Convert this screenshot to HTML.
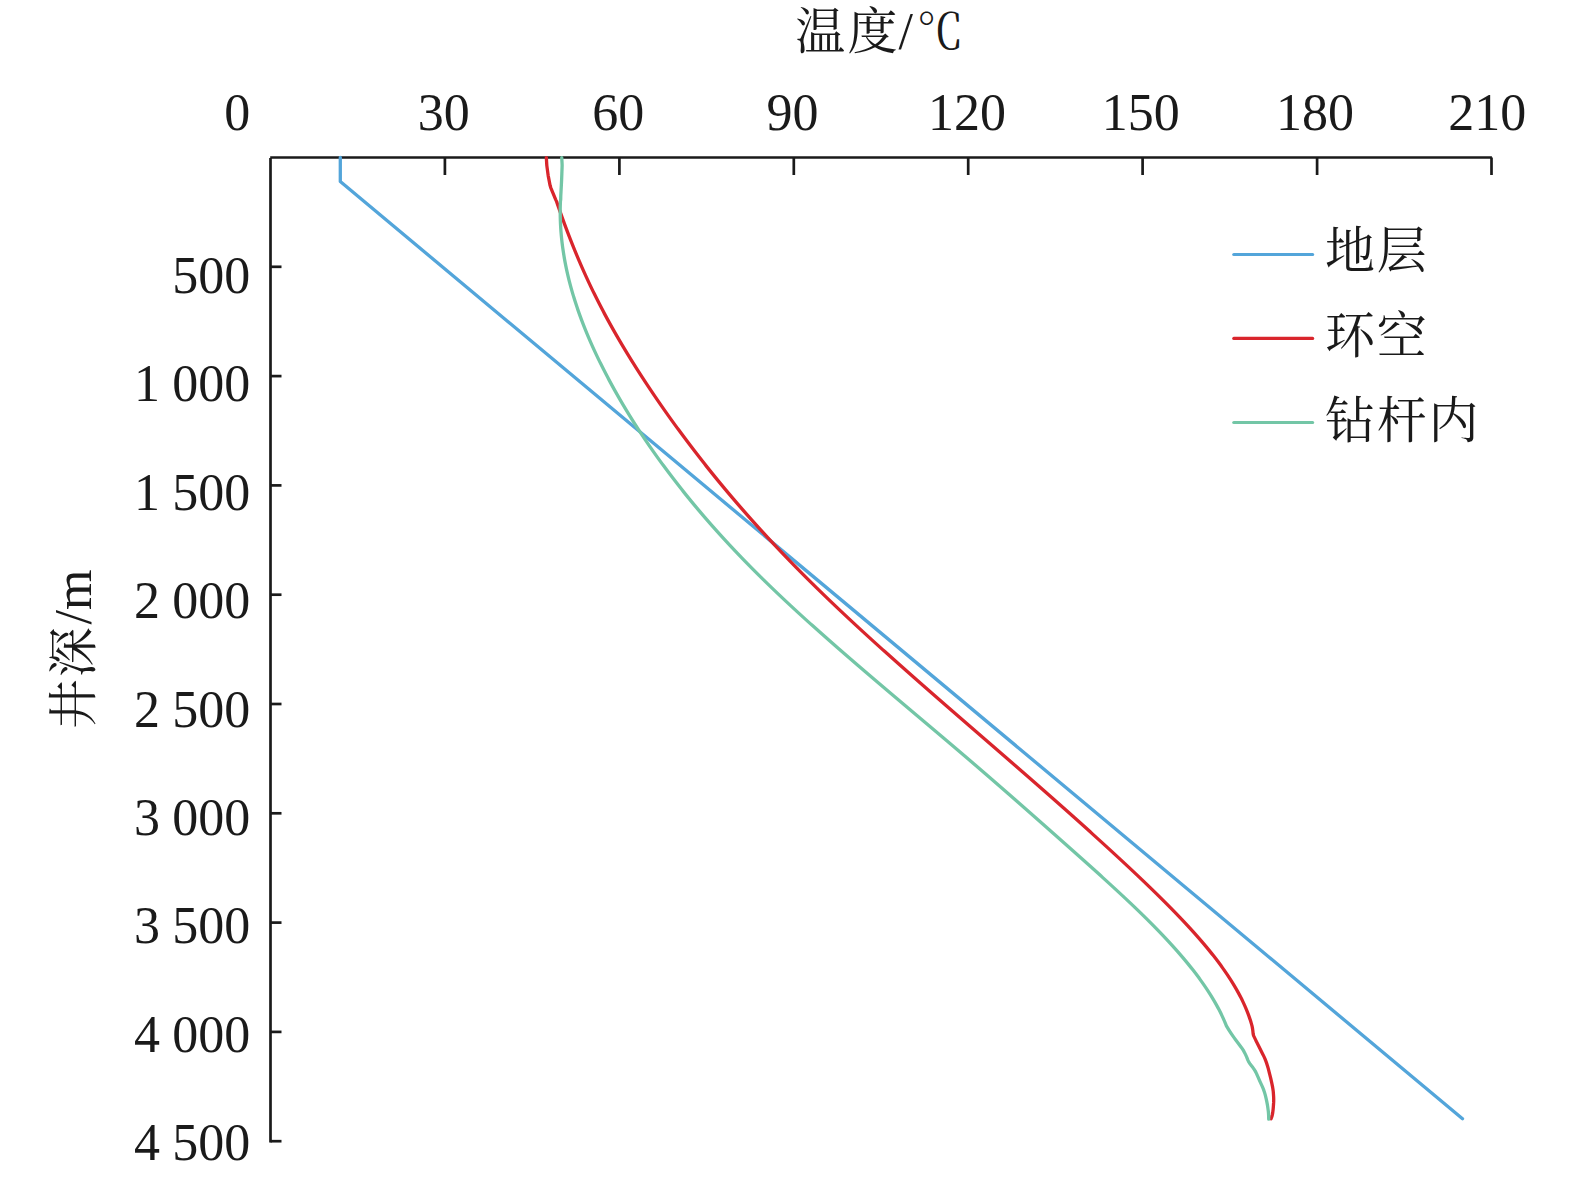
<!DOCTYPE html>
<html lang="zh-CN"><head><meta charset="utf-8"><title>温度-井深</title>
<style>html,body{margin:0;padding:0;background:#fff}body{width:1575px;height:1181px;overflow:hidden}svg{display:block}</style>
</head><body>
<svg width="1575" height="1181" viewBox="0 0 1575 1181">
<rect width="1575" height="1181" fill="#fff"/>
<g fill="none" stroke="#1a1a1a" stroke-width="2.7" stroke-linecap="butt">
<path d="M270.5,1142.55 L270.5,158.1"/>
<path d="M270.2,157.5 L1491.9,157.5"/>
<path d="M444.9,157.5 L444.9,175"/>
<path d="M619.4,157.5 L619.4,175"/>
<path d="M793.8,157.5 L793.8,175"/>
<path d="M968.2,157.5 L968.2,175"/>
<path d="M1142.6,157.5 L1142.6,175"/>
<path d="M1317.1,157.5 L1317.1,175"/>
<path d="M1491.5,157.5 L1491.5,175"/>
<path d="M270.5,266.8 L281.5,266.8"/>
<path d="M270.5,376.1 L281.5,376.1"/>
<path d="M270.5,485.4 L281.5,485.4"/>
<path d="M270.5,594.7 L281.5,594.7"/>
<path d="M270.5,704.0 L281.5,704.0"/>
<path d="M270.5,813.3 L281.5,813.3"/>
<path d="M270.5,922.6 L281.5,922.6"/>
<path d="M270.5,1031.9 L281.5,1031.9"/>
<path d="M270.5,1141.2 L281.5,1141.2"/>
</g>
<g fill="none" stroke-width="3.3" stroke-linecap="round" stroke-linejoin="round">
<path d="M340.30,157.50 L340.30,181.60 L1462.50,1118.70" stroke="#53a5da"/>
<path d="M546.35,157.60 L546.46,159.60 L546.58,161.60 L546.69,163.60 L546.84,165.60 L547.10,167.60 L547.37,169.60 L547.64,171.60 L547.90,173.60 L548.18,175.60 L548.57,177.60 L548.95,179.60 L549.34,181.60 L549.72,183.60 L550.11,185.60 L550.72,187.60 L551.54,189.60 L552.37,191.60 L553.20,193.60 L554.03,195.60 L554.85,197.60 L555.69,199.60 L556.62,201.60 L557.30,203.60 L557.99,205.60 L558.68,207.60 L559.38,209.60 L560.08,211.60 L560.78,213.60 L561.50,215.60 L562.21,217.60 L562.93,219.60 L563.66,221.60 L564.39,223.60 L565.13,225.60 L565.88,227.60 L566.63,229.60 L567.38,231.60 L568.15,233.60 L568.91,235.60 L569.69,237.60 L570.47,239.60 L571.26,241.60 L572.05,243.60 L572.85,245.60 L573.65,247.60 L574.47,249.60 L575.29,251.60 L576.11,253.60 L576.95,255.60 L577.79,257.60 L578.63,259.60 L579.49,261.60 L580.35,263.60 L581.22,265.60 L582.09,267.60 L582.98,269.60 L583.87,271.60 L584.77,273.60 L585.67,275.60 L586.59,277.60 L587.51,279.60 L588.44,281.60 L589.38,283.60 L590.32,285.60 L591.28,287.60 L592.24,289.60 L593.21,291.60 L594.19,293.60 L595.18,295.60 L596.17,297.60 L597.18,299.60 L598.19,301.60 L599.21,303.60 L600.24,305.60 L601.28,307.60 L602.33,309.60 L603.38,311.60 L604.45,313.60 L605.52,315.60 L606.60,317.60 L607.68,319.60 L608.78,321.60 L609.88,323.60 L610.99,325.60 L612.11,327.60 L613.24,329.60 L614.37,331.60 L615.51,333.60 L616.66,335.60 L617.82,337.60 L618.99,339.60 L620.16,341.60 L621.34,343.60 L622.52,345.60 L623.72,347.60 L624.92,349.60 L626.13,351.60 L627.34,353.60 L628.57,355.60 L629.80,357.60 L631.03,359.60 L632.28,361.60 L633.53,363.60 L634.79,365.60 L636.05,367.60 L637.32,369.60 L638.60,371.60 L639.88,373.60 L641.18,375.60 L642.47,377.60 L643.78,379.60 L645.09,381.60 L646.40,383.60 L647.73,385.60 L649.06,387.60 L650.39,389.60 L651.74,391.60 L653.08,393.60 L654.44,395.60 L655.80,397.60 L657.17,399.60 L658.54,401.60 L659.92,403.60 L661.31,405.60 L662.70,407.60 L664.10,409.60 L665.50,411.60 L666.92,413.60 L668.33,415.60 L669.76,417.60 L671.19,419.60 L672.63,421.60 L674.07,423.60 L675.52,425.60 L676.98,427.60 L678.45,429.60 L679.92,431.60 L681.39,433.60 L682.88,435.60 L684.37,437.60 L685.87,439.60 L687.37,441.60 L688.88,443.60 L690.40,445.60 L691.92,447.60 L693.45,449.60 L694.99,451.60 L696.54,453.60 L698.09,455.60 L699.65,457.60 L701.21,459.60 L702.78,461.60 L704.36,463.60 L705.95,465.60 L707.54,467.60 L709.14,469.60 L710.75,471.60 L712.36,473.60 L713.98,475.60 L715.61,477.60 L717.24,479.60 L718.88,481.60 L720.53,483.60 L722.19,485.60 L723.85,487.60 L725.52,489.60 L727.20,491.60 L728.88,493.60 L730.57,495.60 L732.27,497.60 L733.98,499.60 L735.69,501.60 L737.41,503.60 L739.14,505.60 L740.87,507.60 L742.61,509.60 L744.36,511.60 L746.12,513.60 L747.88,515.60 L749.65,517.60 L751.43,519.60 L753.22,521.60 L755.01,523.60 L756.81,525.60 L758.62,527.60 L760.44,529.60 L762.26,531.60 L764.09,533.60 L765.93,535.60 L767.77,537.60 L769.63,539.60 L771.49,541.60 L773.35,543.60 L775.23,545.60 L777.11,547.60 L779.01,549.60 L780.90,551.60 L782.81,553.60 L784.72,555.60 L786.65,557.60 L788.58,559.60 L790.51,561.60 L792.46,563.60 L794.41,565.60 L796.37,567.60 L798.34,569.60 L800.32,571.60 L802.30,573.60 L804.29,575.60 L806.29,577.60 L808.30,579.60 L810.31,581.60 L812.34,583.60 L814.37,585.60 L816.40,587.60 L818.45,589.60 L820.50,591.60 L822.56,593.60 L824.62,595.60 L826.69,597.60 L828.77,599.60 L830.86,601.60 L832.95,603.60 L835.05,605.60 L837.15,607.60 L839.26,609.60 L841.38,611.60 L843.50,613.60 L845.63,615.60 L847.76,617.60 L849.91,619.60 L852.05,621.60 L854.20,623.60 L856.36,625.60 L858.52,627.60 L860.69,629.60 L862.86,631.60 L865.04,633.60 L867.22,635.60 L869.41,637.60 L871.60,639.60 L873.80,641.60 L876.00,643.60 L878.21,645.60 L880.42,647.60 L882.63,649.60 L884.85,651.60 L887.08,653.60 L889.30,655.60 L891.54,657.60 L893.77,659.60 L896.01,661.60 L898.25,663.60 L900.50,665.60 L902.75,667.60 L905.00,669.60 L907.26,671.60 L909.52,673.60 L911.78,675.60 L914.04,677.60 L916.31,679.60 L918.58,681.60 L920.85,683.60 L923.13,685.60 L925.41,687.60 L927.69,689.60 L929.97,691.60 L932.26,693.60 L934.55,695.60 L936.83,697.60 L939.13,699.60 L941.42,701.60 L943.71,703.60 L946.01,705.60 L948.31,707.60 L950.61,709.60 L952.91,711.60 L955.21,713.60 L957.51,715.60 L959.82,717.60 L962.12,719.60 L964.43,721.60 L966.74,723.60 L969.04,725.60 L971.35,727.60 L973.66,729.60 L975.97,731.60 L978.28,733.60 L980.59,735.60 L982.89,737.60 L985.20,739.60 L987.51,741.60 L989.82,743.60 L992.13,745.60 L994.44,747.60 L996.75,749.60 L999.05,751.60 L1001.36,753.60 L1003.66,755.60 L1005.97,757.60 L1008.27,759.60 L1010.57,761.60 L1012.88,763.60 L1015.18,765.60 L1017.48,767.60 L1019.77,769.60 L1022.07,771.60 L1024.36,773.60 L1026.66,775.60 L1028.95,777.60 L1031.24,779.60 L1033.53,781.60 L1035.81,783.60 L1038.10,785.60 L1040.38,787.60 L1042.66,789.60 L1044.93,791.60 L1047.21,793.60 L1049.48,795.60 L1051.75,797.60 L1054.02,799.60 L1056.29,801.60 L1058.55,803.60 L1060.81,805.60 L1063.07,807.60 L1065.33,809.60 L1067.58,811.60 L1069.83,813.60 L1072.07,815.60 L1074.32,817.60 L1076.56,819.60 L1078.79,821.60 L1081.03,823.60 L1083.26,825.60 L1085.48,827.60 L1087.71,829.60 L1089.93,831.60 L1092.14,833.60 L1094.35,835.60 L1096.56,837.60 L1098.77,839.60 L1100.97,841.60 L1103.16,843.60 L1105.35,845.60 L1107.54,847.60 L1109.73,849.60 L1111.91,851.60 L1114.08,853.60 L1116.25,855.60 L1118.42,857.60 L1120.58,859.60 L1122.73,861.60 L1124.88,863.60 L1127.03,865.60 L1129.17,867.60 L1131.30,869.60 L1133.43,871.60 L1135.54,873.60 L1137.66,875.60 L1139.76,877.60 L1141.86,879.60 L1143.95,881.60 L1146.04,883.60 L1148.11,885.60 L1150.18,887.60 L1152.24,889.60 L1154.29,891.60 L1156.34,893.60 L1158.37,895.60 L1160.40,897.60 L1162.41,899.60 L1164.42,901.60 L1166.42,903.60 L1168.40,905.60 L1170.38,907.60 L1172.34,909.60 L1174.29,911.60 L1176.23,913.60 L1178.16,915.60 L1180.07,917.60 L1181.97,919.60 L1183.86,921.60 L1185.73,923.60 L1187.59,925.60 L1189.43,927.60 L1191.25,929.60 L1193.06,931.60 L1194.86,933.60 L1196.63,935.60 L1198.39,937.60 L1200.13,939.60 L1201.85,941.60 L1203.56,943.60 L1205.24,945.60 L1206.91,947.60 L1208.55,949.60 L1210.18,951.60 L1211.78,953.60 L1213.36,955.60 L1214.92,957.60 L1216.46,959.60 L1217.98,961.60 L1219.47,963.60 L1220.94,965.60 L1222.38,967.60 L1223.80,969.60 L1225.20,971.60 L1226.57,973.60 L1227.92,975.60 L1229.23,977.60 L1230.53,979.60 L1231.79,981.60 L1233.03,983.60 L1234.24,985.60 L1235.42,987.60 L1236.58,989.60 L1237.70,991.60 L1238.79,993.60 L1239.86,995.60 L1240.89,997.60 L1241.90,999.60 L1242.87,1001.60 L1243.81,1003.60 L1244.72,1005.60 L1245.59,1007.60 L1246.43,1009.60 L1247.24,1011.60 L1248.02,1013.60 L1248.76,1015.60 L1249.46,1017.60 L1250.14,1019.60 L1250.77,1021.60 L1251.37,1023.60 L1251.93,1025.60 L1252.01,1025.90 L1252.32,1027.40 L1252.58,1028.90 L1252.80,1030.40 L1252.95,1031.90 L1253.09,1033.40 L1253.36,1034.90 L1253.93,1036.40 L1254.66,1037.90 L1255.39,1039.40 L1256.13,1040.90 L1256.90,1042.40 L1257.65,1043.90 L1258.41,1045.40 L1259.16,1046.90 L1259.92,1048.40 L1260.66,1049.90 L1261.40,1051.40 L1262.14,1052.90 L1262.90,1054.40 L1263.63,1055.90 L1264.34,1057.40 L1265.00,1058.90 L1265.59,1060.40 L1266.15,1061.90 L1266.68,1063.40 L1267.18,1064.90 L1267.64,1066.40 L1268.07,1067.90 L1268.47,1069.40 L1268.85,1070.90 L1269.22,1072.40 L1269.60,1073.90 L1269.99,1075.40 L1270.37,1076.90 L1270.74,1078.40 L1271.08,1079.90 L1271.40,1081.40 L1271.73,1082.90 L1272.05,1084.40 L1272.36,1085.90 L1272.65,1087.40 L1272.90,1088.90 L1273.12,1090.40 L1273.28,1091.90 L1273.39,1093.40 L1273.50,1094.90 L1273.60,1096.40 L1273.67,1097.90 L1273.70,1099.40 L1273.69,1100.90 L1273.64,1102.40 L1273.55,1103.90 L1273.45,1105.40 L1273.34,1106.90 L1273.22,1108.40 L1273.07,1109.90 L1272.89,1111.40 L1272.68,1112.90 L1272.42,1114.40 L1272.08,1115.90 L1271.56,1117.40 L1271.00,1118.80" stroke="#d9252c"/>
<path d="M561.74,157.60 L561.85,159.60 L561.96,161.60 L562.07,163.60 L562.14,165.60 L562.07,167.60 L562.00,169.60 L561.92,171.60 L561.85,173.60 L561.77,175.60 L561.70,177.60 L561.62,179.60 L561.53,181.60 L561.42,183.60 L561.32,185.60 L561.21,187.60 L561.10,189.60 L561.00,191.60 L560.89,193.60 L560.78,195.60 L560.73,197.60 L560.69,199.60 L560.42,201.60 L560.34,203.60 L560.28,205.60 L560.24,207.60 L560.22,209.60 L560.21,211.60 L560.21,213.60 L560.24,215.60 L560.28,217.60 L560.33,219.60 L560.40,221.60 L560.48,223.60 L560.59,225.60 L560.70,227.60 L560.83,229.60 L560.98,231.60 L561.14,233.60 L561.32,235.60 L561.51,237.60 L561.72,239.60 L561.94,241.60 L562.18,243.60 L562.43,245.60 L562.70,247.60 L562.98,249.60 L563.28,251.60 L563.59,253.60 L563.91,255.60 L564.25,257.60 L564.61,259.60 L564.97,261.60 L565.36,263.60 L565.75,265.60 L566.16,267.60 L566.58,269.60 L567.02,271.60 L567.47,273.60 L567.94,275.60 L568.41,277.60 L568.90,279.60 L569.41,281.60 L569.93,283.60 L570.46,285.60 L571.00,287.60 L571.56,289.60 L572.13,291.60 L572.71,293.60 L573.31,295.60 L573.92,297.60 L574.54,299.60 L575.17,301.60 L575.82,303.60 L576.48,305.60 L577.15,307.60 L577.83,309.60 L578.53,311.60 L579.24,313.60 L579.96,315.60 L580.69,317.60 L581.43,319.60 L582.19,321.60 L582.96,323.60 L583.73,325.60 L584.53,327.60 L585.33,329.60 L586.14,331.60 L586.97,333.60 L587.80,335.60 L588.65,337.60 L589.51,339.60 L590.38,341.60 L591.26,343.60 L592.15,345.60 L593.05,347.60 L593.96,349.60 L594.89,351.60 L595.82,353.60 L596.77,355.60 L597.72,357.60 L598.69,359.60 L599.66,361.60 L600.65,363.60 L601.64,365.60 L602.65,367.60 L603.66,369.60 L604.69,371.60 L605.72,373.60 L606.77,375.60 L607.82,377.60 L608.89,379.60 L609.96,381.60 L611.05,383.60 L612.14,385.60 L613.24,387.60 L614.35,389.60 L615.47,391.60 L616.60,393.60 L617.74,395.60 L618.89,397.60 L620.04,399.60 L621.21,401.60 L622.39,403.60 L623.57,405.60 L624.76,407.60 L625.97,409.60 L627.18,411.60 L628.40,413.60 L629.63,415.60 L630.87,417.60 L632.12,419.60 L633.38,421.60 L634.65,423.60 L635.93,425.60 L637.22,427.60 L638.51,429.60 L639.82,431.60 L641.13,433.60 L642.46,435.60 L643.79,437.60 L645.14,439.60 L646.49,441.60 L647.85,443.60 L649.22,445.60 L650.61,447.60 L652.00,449.60 L653.40,451.60 L654.81,453.60 L656.23,455.60 L657.66,457.60 L659.10,459.60 L660.54,461.60 L662.00,463.60 L663.47,465.60 L664.95,467.60 L666.43,469.60 L667.93,471.60 L669.44,473.60 L670.95,475.60 L672.48,477.60 L674.01,479.60 L675.56,481.60 L677.11,483.60 L678.68,485.60 L680.25,487.60 L681.83,489.60 L683.43,491.60 L685.03,493.60 L686.64,495.60 L688.27,497.60 L689.90,499.60 L691.54,501.60 L693.19,503.60 L694.85,505.60 L696.53,507.60 L698.21,509.60 L699.90,511.60 L701.60,513.60 L703.31,515.60 L705.03,517.60 L706.76,519.60 L708.50,521.60 L710.25,523.60 L712.01,525.60 L713.79,527.60 L715.57,529.60 L717.36,531.60 L719.16,533.60 L720.97,535.60 L722.79,537.60 L724.62,539.60 L726.46,541.60 L728.31,543.60 L730.17,545.60 L732.04,547.60 L733.92,549.60 L735.81,551.60 L737.71,553.60 L739.62,555.60 L741.54,557.60 L743.47,559.60 L745.41,561.60 L747.37,563.60 L749.33,565.60 L751.30,567.60 L753.28,569.60 L755.27,571.60 L757.28,573.60 L759.29,575.60 L761.31,577.60 L763.34,579.60 L765.38,581.60 L767.44,583.60 L769.50,585.60 L771.57,587.60 L773.65,589.60 L775.74,591.60 L777.83,593.60 L779.94,595.60 L782.06,597.60 L784.18,599.60 L786.31,601.60 L788.45,603.60 L790.60,605.60 L792.76,607.60 L794.92,609.60 L797.09,611.60 L799.27,613.60 L801.46,615.60 L803.65,617.60 L805.85,619.60 L808.06,621.60 L810.27,623.60 L812.49,625.60 L814.72,627.60 L816.95,629.60 L819.19,631.60 L821.44,633.60 L823.69,635.60 L825.95,637.60 L828.21,639.60 L830.48,641.60 L832.75,643.60 L835.03,645.60 L837.31,647.60 L839.60,649.60 L841.90,651.60 L844.20,653.60 L846.50,655.60 L848.80,657.60 L851.12,659.60 L853.43,661.60 L855.75,663.60 L858.07,665.60 L860.40,667.60 L862.73,669.60 L865.06,671.60 L867.40,673.60 L869.74,675.60 L872.08,677.60 L874.42,679.60 L876.77,681.60 L879.12,683.60 L881.47,685.60 L883.83,687.60 L886.18,689.60 L888.54,691.60 L890.90,693.60 L893.26,695.60 L895.63,697.60 L897.99,699.60 L900.36,701.60 L902.72,703.60 L905.09,705.60 L907.46,707.60 L909.83,709.60 L912.19,711.60 L914.56,713.60 L916.93,715.60 L919.30,717.60 L921.67,719.60 L924.04,721.60 L926.41,723.60 L928.78,725.60 L931.14,727.60 L933.51,729.60 L935.87,731.60 L938.24,733.60 L940.60,735.60 L942.96,737.60 L945.32,739.60 L947.68,741.60 L950.04,743.60 L952.39,745.60 L954.74,747.60 L957.09,749.60 L959.44,751.60 L961.78,753.60 L964.13,755.60 L966.47,757.60 L968.80,759.60 L971.13,761.60 L973.46,763.60 L975.79,765.60 L978.11,767.60 L980.43,769.60 L982.75,771.60 L985.07,773.60 L987.38,775.60 L989.69,777.60 L992.00,779.60 L994.30,781.60 L996.60,783.60 L998.90,785.60 L1001.20,787.60 L1003.49,789.60 L1005.78,791.60 L1008.07,793.60 L1010.36,795.60 L1012.65,797.60 L1014.93,799.60 L1017.21,801.60 L1019.49,803.60 L1021.77,805.60 L1024.04,807.60 L1026.32,809.60 L1028.59,811.60 L1030.86,813.60 L1033.13,815.60 L1035.39,817.60 L1037.66,819.60 L1039.92,821.60 L1042.19,823.60 L1044.45,825.60 L1046.71,827.60 L1048.97,829.60 L1051.22,831.60 L1053.48,833.60 L1055.74,835.60 L1057.99,837.60 L1060.24,839.60 L1062.50,841.60 L1064.75,843.60 L1067.00,845.60 L1069.25,847.60 L1071.50,849.60 L1073.75,851.60 L1075.99,853.60 L1078.24,855.60 L1080.49,857.60 L1082.73,859.60 L1084.97,861.60 L1087.21,863.60 L1089.45,865.60 L1091.68,867.60 L1093.91,869.60 L1096.14,871.60 L1098.36,873.60 L1100.58,875.60 L1102.79,877.60 L1105.00,879.60 L1107.20,881.60 L1109.39,883.60 L1111.58,885.60 L1113.76,887.60 L1115.93,889.60 L1118.10,891.60 L1120.26,893.60 L1122.41,895.60 L1124.55,897.60 L1126.68,899.60 L1128.80,901.60 L1130.92,903.60 L1133.02,905.60 L1135.11,907.60 L1137.19,909.60 L1139.26,911.60 L1141.32,913.60 L1143.36,915.60 L1145.40,917.60 L1147.42,919.60 L1149.42,921.60 L1151.42,923.60 L1153.40,925.60 L1155.36,927.60 L1157.31,929.60 L1159.25,931.60 L1161.17,933.60 L1163.07,935.60 L1164.96,937.60 L1166.83,939.60 L1168.68,941.60 L1170.52,943.60 L1172.34,945.60 L1174.14,947.60 L1175.92,949.60 L1177.69,951.60 L1179.43,953.60 L1181.15,955.60 L1182.86,957.60 L1184.54,959.60 L1186.21,961.60 L1187.85,963.60 L1189.47,965.60 L1191.07,967.60 L1192.65,969.60 L1194.20,971.60 L1195.74,973.60 L1197.24,975.60 L1198.73,977.60 L1200.19,979.60 L1201.63,981.60 L1203.04,983.60 L1204.42,985.60 L1205.79,987.60 L1207.12,989.60 L1208.43,991.60 L1209.71,993.60 L1210.97,995.60 L1212.19,997.60 L1213.39,999.60 L1214.57,1001.60 L1215.71,1003.60 L1216.82,1005.60 L1217.91,1007.60 L1218.96,1009.60 L1219.99,1011.60 L1220.98,1013.60 L1221.95,1015.60 L1222.88,1017.60 L1223.78,1019.60 L1224.65,1021.60 L1225.49,1023.60 L1226.30,1025.60 L1226.41,1025.90 L1227.30,1027.40 L1228.21,1028.90 L1229.15,1030.40 L1230.11,1031.90 L1231.10,1033.40 L1232.12,1034.90 L1233.16,1036.40 L1234.24,1037.90 L1235.37,1039.40 L1236.52,1040.90 L1237.65,1042.40 L1238.76,1043.90 L1239.88,1045.40 L1240.99,1046.90 L1242.05,1048.40 L1243.04,1049.90 L1243.93,1051.40 L1244.72,1052.90 L1245.45,1054.40 L1246.14,1055.90 L1246.80,1057.40 L1247.38,1058.90 L1247.98,1060.40 L1248.71,1061.90 L1249.72,1063.40 L1250.90,1064.90 L1252.06,1066.40 L1253.11,1067.90 L1254.15,1069.40 L1255.10,1070.90 L1255.92,1072.40 L1256.63,1073.90 L1257.29,1075.40 L1257.96,1076.90 L1258.61,1078.40 L1259.26,1079.90 L1259.92,1081.40 L1260.61,1082.90 L1261.31,1084.40 L1262.00,1085.90 L1262.67,1087.40 L1263.29,1088.90 L1263.86,1090.40 L1264.36,1091.90 L1264.81,1093.40 L1265.23,1094.90 L1265.61,1096.40 L1265.97,1097.90 L1266.31,1099.40 L1266.63,1100.90 L1266.94,1102.40 L1267.23,1103.90 L1267.50,1105.40 L1267.73,1106.90 L1267.93,1108.40 L1268.13,1109.90 L1268.32,1111.40 L1268.47,1112.90 L1268.57,1114.40 L1268.63,1115.90 L1268.68,1117.40 L1268.70,1118.90 L1268.70,1119.20" stroke="#73c6a6"/>
<path d="M1233.8,254.5 L1312.6,254.5" stroke="#53a5da" stroke-width="3.2"/>
<path d="M1233.8,338.4 L1312.6,338.4" stroke="#d9252c" stroke-width="3.2"/>
<path d="M1233.8,422.5 L1312.6,422.5" stroke="#73c6a6" stroke-width="3.2"/>
</g>
<g fill="#1a1a1a" font-family='"Liberation Serif","Noto Serif CJK SC",serif' font-size="52">
<text x="250.3" y="129.8" text-anchor="end">0</text>
<text x="443.7" y="129.8" text-anchor="middle">30</text>
<text x="618.2" y="129.8" text-anchor="middle">60</text>
<text x="792.5" y="129.8" text-anchor="middle">90</text>
<text x="967.0" y="129.8" text-anchor="middle">120</text>
<text x="1140.8" y="129.8" text-anchor="middle">150</text>
<text x="1315.1" y="129.8" text-anchor="middle">180</text>
<text x="1487.2" y="129.8" text-anchor="middle">210</text>
<text x="250.3" y="292.9" text-anchor="end" word-spacing="-0.6">500</text>
<text x="250.3" y="401.3" text-anchor="end" word-spacing="-0.6">1 000</text>
<text x="250.3" y="509.7" text-anchor="end" word-spacing="-0.6">1 500</text>
<text x="250.3" y="618.1" text-anchor="end" word-spacing="-0.6">2 000</text>
<text x="250.3" y="726.5" text-anchor="end" word-spacing="-0.6">2 500</text>
<text x="250.3" y="834.9" text-anchor="end" word-spacing="-0.6">3 000</text>
<text x="250.3" y="943.3" text-anchor="end" word-spacing="-0.6">3 500</text>
<text x="250.3" y="1051.7" text-anchor="end" word-spacing="-0.6">4 000</text>
<text x="250.3" y="1160.1" text-anchor="end" word-spacing="-0.6">4 500</text>
</g>
<g fill="#1a1a1a" font-family='"Liberation Serif","Noto Serif CJK SC",serif'>
<text y="49" font-size="50"><tspan x="795.2">温</tspan><tspan x="847.6">度</tspan><tspan x="898.6" font-size="52">/</tspan></text>
<text transform="translate(916.8,49) scale(0.955,1)" font-size="49">℃</text>
<text transform="translate(91,729) rotate(-90)" font-size="50"><tspan x="0">井</tspan><tspan x="51.7">深</tspan><tspan x="104.6" font-size="52">/m</tspan></text>
<text y="267.5" font-size="50"><tspan x="1325.0">地</tspan><tspan x="1376.7">层</tspan></text>
<text y="353" font-size="50"><tspan x="1325.0">环</tspan><tspan x="1376.7">空</tspan></text>
<text y="438.4" font-size="50"><tspan x="1325.0">钻</tspan><tspan x="1376.7">杆</tspan><tspan x="1428.4">内</tspan></text>
</g>
</svg>
</body></html>
